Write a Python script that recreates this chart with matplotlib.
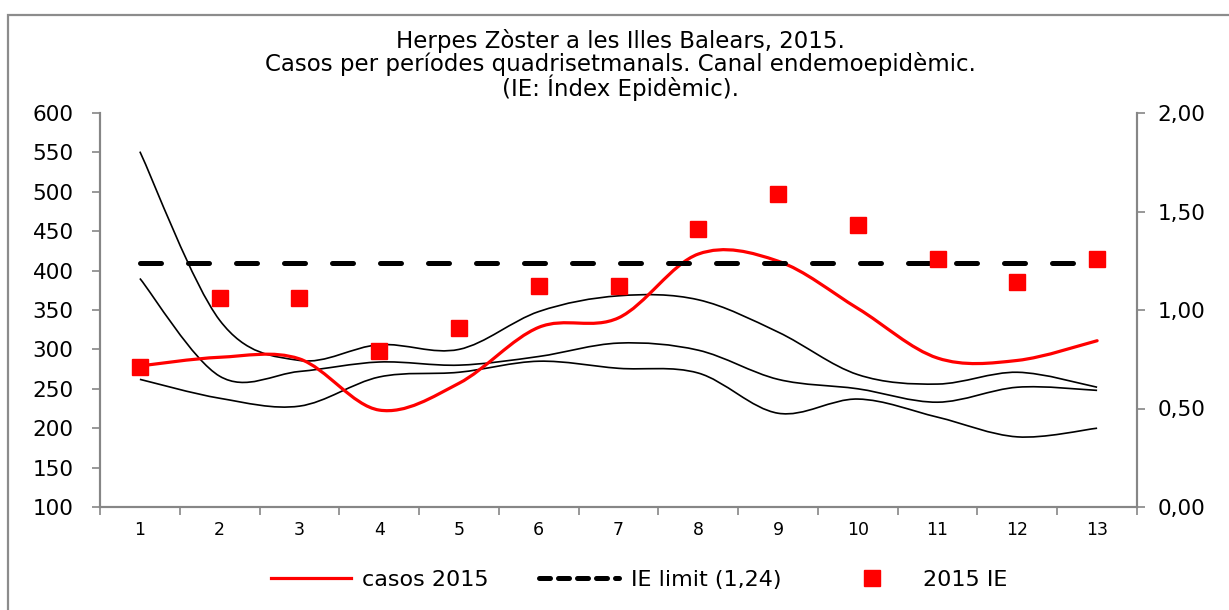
import matplotlib
matplotlib.use("Agg")
import matplotlib.pyplot as plt
import numpy as np
from matplotlib.path import Path
from matplotlib.patches import PathPatch, Rectangle
from matplotlib.lines import Line2D

periods = list(range(1, 14))
casos_2015 = [279, 290, 288, 223, 257, 328, 340, 421, 412, 352, 289, 286, 311]
upper = [551, 337, 286, 306, 300, 348, 368, 363, 322, 268, 256, 271, 252]
median = [390, 266, 272, 284, 280, 291, 308, 299, 262, 250, 233, 252, 248]
lower = [262, 238, 228, 265, 271, 285, 276, 270, 219, 237, 214, 189, 200]
ie_2015 = [0.71, 1.06, 1.06, 0.79, 0.91, 1.12, 1.12, 1.41, 1.59, 1.43, 1.26, 1.14, 1.26]
ie_limit = [1.24] * 13

title = ("Herpes Zòster a les Illes Balears, 2015.\n"
         "Casos per períodes quadrisetmanals. Canal endemoepidèmic.\n"
         "(IE: Índex Epidèmic).")

GRAY = "#868686"


def smooth_path(x, y):
    # Excel-like smoothed line: cubic bezier segments, tension 1/6
    x = np.asarray(x, float)
    y = np.asarray(y, float)
    n = len(x)
    verts = [(x[0], y[0])]
    codes = [Path.MOVETO]
    for i in range(n - 1):
        i0 = max(i - 1, 0)
        i3 = min(i + 2, n - 1)
        c1 = (x[i] + (x[i + 1] - x[i0]) / 6, y[i] + (y[i + 1] - y[i0]) / 6)
        c2 = (x[i + 1] - (x[i3] - x[i]) / 6, y[i + 1] - (y[i3] - y[i]) / 6)
        verts += [c1, c2, (x[i + 1], y[i + 1])]
        codes += [Path.CURVE4] * 3
    return Path(verts, codes)


fig = plt.figure(figsize=(12.29, 6.10), dpi=100)
ax = fig.add_axes([100 / 1229, 1 - 507 / 610, (1137 - 100) / 1229, (507 - 113) / 610])
ax2 = ax.twinx()

for s in (upper, median, lower):
    ax.add_patch(PathPatch(smooth_path(periods, s), fill=False, edgecolor="black", lw=1.2))
ax.add_patch(PathPatch(smooth_path(periods, casos_2015), fill=False, edgecolor="#ff0000",
                       lw=2.3, capstyle="round", zorder=4))

ax2.plot(periods, ie_limit, color="black", lw=3.6, dashes=(4.2, 5.4),
         dash_capstyle="round", zorder=3)
ax2.plot(periods, ie_2015, ls="none", marker="s", ms=11, color="#ff0000",
         mec="#ff0000", zorder=5)

ax.set_xlim(0.5, 13.5)
ax.set_ylim(100, 600)
ax.set_yticks(range(100, 601, 50))
ax2.set_ylim(0, 2)
ax2.set_yticks([0, 0.5, 1.0, 1.5, 2.0])
ax2.set_yticklabels(["0,00", "0,50", "1,00", "1,50", "2,00"])

ax.set_xticks(np.arange(0.5, 14, 1))
ax.set_xticklabels([])
ax.set_xticks(periods, minor=True)
ax.set_xticklabels([str(p) for p in periods], minor=True)
ax.tick_params(axis="x", which="major", length=6, color=GRAY, width=1.2)
ax.tick_params(axis="x", which="minor", length=0, labelsize=12.5, pad=10)
ax.tick_params(axis="y", length=6, color=GRAY, width=1.2, labelsize=15.5, pad=13)
ax2.tick_params(axis="y", length=6, color=GRAY, width=1.2, labelsize=15.5, pad=9)

for a in (ax, ax2):
    a.spines["top"].set_visible(False)
    for k in ("left", "right", "bottom"):
        a.spines[k].set_color(GRAY)
        a.spines[k].set_linewidth(1.5)

fig.text(0.505, 1 - 65 / 610, title, ha="center", va="center", fontsize=16.5,
         linespacing=0.95)

handles = [
    Line2D([], [], color="#ff0000", lw=2.3),
    Line2D([], [], color="black", lw=3.6, dashes=(2.2, 1.6), dash_capstyle="round"),
    Line2D([], [], ls="none", marker="s", ms=11, color="#ff0000"),
]
labels = ["casos 2015", "IE limit (1,24)", "2015 IE"]
fig.legend(handles, labels, loc="center", bbox_to_anchor=(0.52, 1 - 580 / 610),
           ncol=3, frameon=False, fontsize=16, handlelength=3.6, handletextpad=0.5,
           columnspacing=2.3)

fig.add_artist(Rectangle((8 / 1229, -0.05), 1.1, 0.975 + 0.05, transform=fig.transFigure,
                         fill=False, edgecolor="#8c8c8c", lw=1.6))

fig.savefig("out.png", dpi=100)
